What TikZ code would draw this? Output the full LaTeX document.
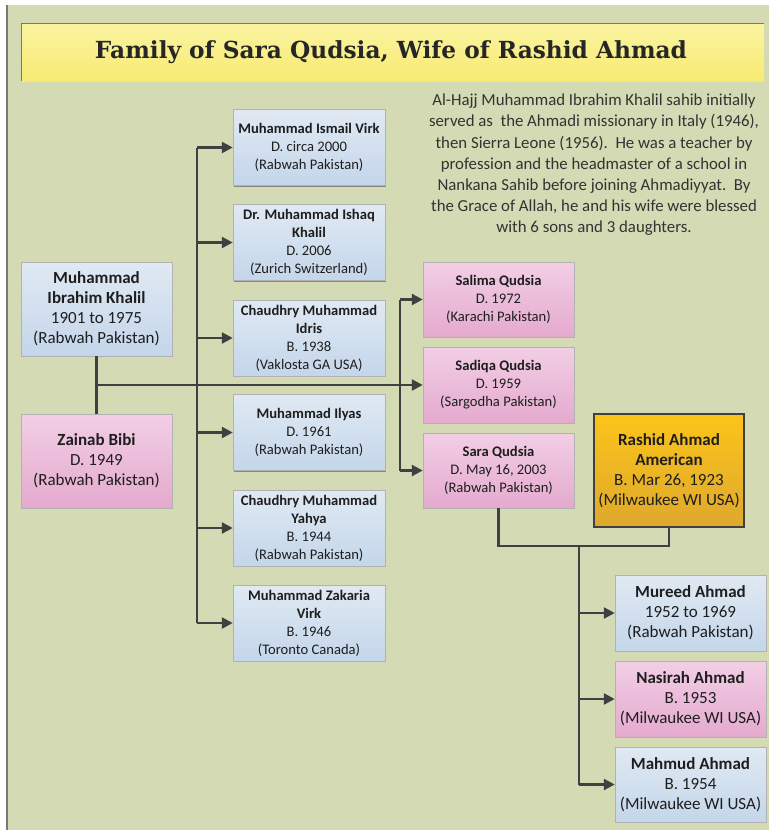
\documentclass[tikz,border=0pt]{standalone}
\usepackage{fontspec}
\setmainfont{Carlito}
\newfontfamily\titlefont{DejaVu Serif}
\usetikzlibrary{arrows.meta,shadows}
\definecolor{bg}{RGB}{211,218,180}
\definecolor{frameline}{RGB}{120,120,120}
\definecolor{ylwtop}{RGB}{250,244,160}
\definecolor{ylwbot}{RGB}{248,234,116}
\definecolor{bluetop}{RGB}{224,233,243}
\definecolor{bluebot}{RGB}{196,214,234}
\definecolor{pinktop}{RGB}{242,206,229}
\definecolor{pinkbot}{RGB}{228,170,206}
\definecolor{orgtop}{RGB}{252,196,25}
\definecolor{orgbot}{RGB}{222,168,46}
\definecolor{conncol}{RGB}{64,64,64}
\definecolor{txt}{RGB}{30,30,30}
\tikzset{
  boxbase/.style={rectangle, align=center, inner sep=1pt, text=txt,
    draw=black!30, line width=0.5pt,
    drop shadow={shadow xshift=1.2pt, shadow yshift=-1.2pt, fill=black!60, opacity=0.7}},
  smallbox/.style={boxbase, minimum width=152pt, minimum height=76pt,
    font=\fontsize{14.6}{18}\selectfont},
  bigbox/.style={boxbase, minimum width=151pt, font=\fontsize{17}{20}\selectfont},
  bluebox/.style={top color=bluetop, bottom color=bluebot},
  pinkbox/.style={top color=pinktop, bottom color=pinkbot},
  conn/.style={draw=conncol, line width=2.5pt},
  arr/.style={conn, -{Triangle[length=11pt,width=11pt]}},
}
\begin{document}
\begin{tikzpicture}[x=1pt,y=-1pt]
\useasboundingbox (0,0) rectangle (769,830);
\fill[white] (0,0) rectangle (769,830);
\fill[bg] (7,5) rectangle (769,830);
\draw[frameline, line width=1.5pt] (7,5) -- (7,830);
% title
\shade[top color=ylwtop, bottom color=ylwbot] (21,23) rectangle (764,81);
\draw[frameline, line width=1pt] (21,81) -- (21,23) -- (764,23);
\node[text=black!85, font=\titlefont\bfseries\fontsize{23.5}{28}\selectfont] (title) at (391,52)
  {\resizebox{592pt}{\height}{Family of Sara Qudsia, Wife of Rashid Ahmad}};
% paragraph
\node[align=center, text=black!80, font=\fontsize{16.8}{21.2}\selectfont] (para) at (594,165)
  {Al-Hajj Muhammad Ibrahim Khalil sahib initially\\
   served as\ \ the Ahmadi missionary in Italy (1946),\\
   then Sierra Leone (1956).\ \ He was a teacher by\\
   profession and the headmaster of a school in\\
   Nankana Sahib before joining Ahmadiyyat.\ \ By\\
   the Grace of Allah, he and his wife were blessed\\
   with 6 sons and 3 daughters.};
% parents
\node[bigbox, bluebox, minimum height=94pt] (mik) at (96.5,309)
  {\textbf{Muhammad}\\\textbf{Ibrahim Khalil}\\1901 to 1975\\(Rabwah Pakistan)};
\node[bigbox, pinkbox, minimum height=94pt] (zb) at (96.5,461)
  {\textbf{Zainab Bibi}\\D. 1949\\(Rabwah Pakistan)};
% sons
\node[smallbox, bluebox] (s1) at (309,147.5)
  {\textbf{Muhammad Ismail Virk}\\D. circa 2000\\(Rabwah Pakistan)};
\node[smallbox, bluebox] (s2) at (309,242.5)
  {\textbf{Dr. Muhammad Ishaq}\\\textbf{Khalil}\\D. 2006\\(Zurich Switzerland)};
\node[smallbox, bluebox] (s3) at (309,338)
  {\textbf{Chaudhry Muhammad}\\\textbf{Idris}\\B. 1938\\(Vaklosta GA USA)};
\node[smallbox, bluebox] (s4) at (309,432.5)
  {\textbf{Muhammad Ilyas}\\D. 1961\\(Rabwah Pakistan)};
\node[smallbox, bluebox] (s5) at (309,528)
  {\textbf{Chaudhry Muhammad}\\\textbf{Yahya}\\B. 1944\\(Rabwah Pakistan)};
\node[smallbox, bluebox] (s6) at (309,623)
  {\textbf{Muhammad Zakaria}\\\textbf{Virk}\\B. 1946\\(Toronto Canada)};
% daughters
\node[smallbox, pinkbox, minimum width=151pt, minimum height=75pt] (d1) at (498.5,299.5)
  {\textbf{Salima Qudsia}\\D. 1972\\(Karachi Pakistan)};
\node[smallbox, pinkbox, minimum width=151pt] (d2) at (498.5,385)
  {\textbf{Sadiqa Qudsia}\\D. 1959\\(Sargodha Pakistan)};
\node[smallbox, pinkbox, minimum width=151pt, minimum height=75pt] (d3) at (498.5,470.5)
  {\textbf{Sara Qudsia}\\D. May 16, 2003\\(Rabwah Pakistan)};
% husband
\node[rectangle, align=center, text=txt, top color=orgtop, bottom color=orgbot,
  draw=conncol, line width=2.5pt, minimum width=150pt, minimum height=113pt,
  font=\fontsize{17}{20}\selectfont] (ra) at (669,470.5)
  {\textbf{Rashid Ahmad}\\\textbf{American}\\B. Mar 26, 1923\\(Milwaukee WI USA)};
% children
\node[bigbox, bluebox, minimum height=76pt] (c1) at (690.5,613)
  {\textbf{Mureed Ahmad}\\1952 to 1969\\(Rabwah Pakistan)};
\node[bigbox, pinkbox, minimum height=76pt] (c2) at (690.5,699)
  {\textbf{Nasirah Ahmad}\\B. 1953\\(Milwaukee WI USA)};
\node[bigbox, bluebox, minimum height=75pt] (c3) at (690.5,784.5)
  {\textbf{Mahmud Ahmad}\\B. 1954\\(Milwaukee WI USA)};
% connectors
\coordinate (busS) at (197,385);
\coordinate (busD) at (400,385);
\coordinate (busC) at (579,546);
\draw[conn] (mik.south) -- (zb.north);
\draw[conn] (mik.south |- busD) -- (busD);
\draw[conn] (s1.west -| busS) -- (s6.west -| busS);
\foreach \n in {s1,s2,s3,s4,s5,s6} \draw[arr] (\n.west -| busS) -- (\n.west);
\draw[conn] (d1.west -| busD) -- (d3.west -| busD);
\foreach \n in {d1,d2,d3} \draw[arr] (\n.west -| busD) -- (\n.west);
\draw[conn] (d3.south) |- (busC) -| (ra.south);
\draw[conn] (busC) -- (c3.west -| busC);
\foreach \n in {c1,c2,c3} \draw[arr] (\n.west -| busC) -- (\n.west);
\end{tikzpicture}
\end{document}
